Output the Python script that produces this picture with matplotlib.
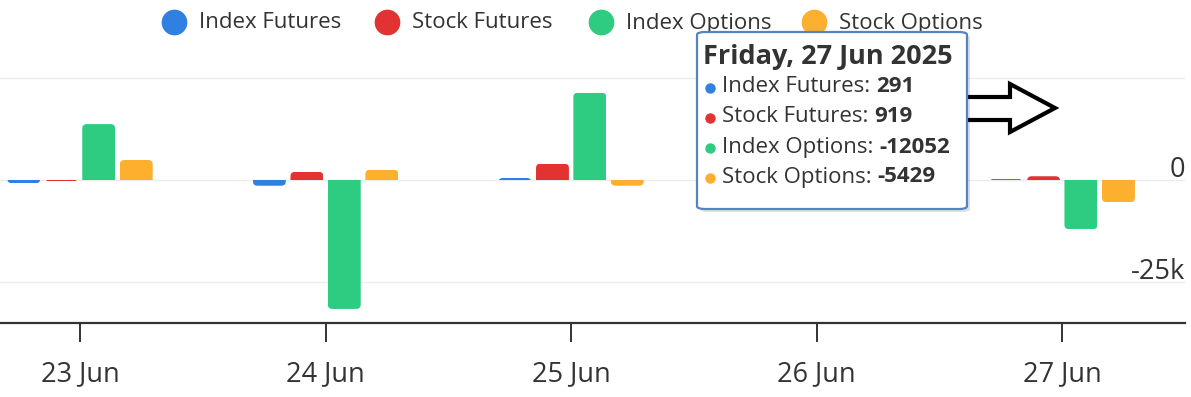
import matplotlib
matplotlib.use("Agg")
import matplotlib.pyplot as plt
from matplotlib.lines import Line2D
from matplotlib.patches import FancyBboxPatch, Polygon
import numpy as np

plt.rcParams['font.family'] = ['Open Sans', 'DejaVu Sans']

# ---- data ----
dates = ["23 Jun", "24 Jun", "25 Jun", "26 Jun", "27 Jun"]
series_names = ["Index Futures", "Stock Futures", "Index Options", "Stock Options"]
index_futures = [-800, -1400, 500, -400, 291]
stock_futures = [-350, 2000, 4000, 1500, 919]
index_options = [13700, -31600, 21400, 9000, -12052]
stock_options = [4900, 2500, -1400, 2000, -5429]
colors = ["#2f80e0", "#e23232", "#2ecc80", "#fdb02e"]
y_label_values = [0, -25000]
y_label_texts = ["0", "-25k"]
tooltip_title = "Friday, 27 Jun 2025"
tooltip_values = ["291", "919", "-12052", "-5429"]

W, H = 1191, 397
fig = plt.figure(figsize=(W / 100, H / 100), dpi=100)

def fx(px):
    return px / W

def fy(py):
    return 1 - py / H

# axes placement: bottom axis line at y=323 px, 0 at 180 px, 102 px per 25k
ymin, ymax = -35000, 30000
ppk = 102 / 25000           # px per data unit (y)
xmin, xmax = -0.326, 4.5
ax_w_px = 1185
ppx = ax_w_px / (xmax - xmin)  # px per data unit (x)
top_px = 180 - ymax * ppk
bot_px = 180 - ymin * ppk
ax = fig.add_axes([0, fy(bot_px), fx(ax_w_px), (bot_px - top_px) / H])
ax.set_ylim(ymin, ymax)
ax.set_xlim(xmin, xmax)

all_series = [index_futures, stock_futures, index_options, stock_options]
x = np.arange(len(dates))
offsets = [-0.229, -0.076, 0.076, 0.229]
bw = 0.134
r_px = 4.5
rx = r_px / ppx
ry = r_px / ppk
for vals, off, c, name in zip(all_series, offsets, colors, series_names):
    bars = ax.bar(x + off, vals, width=bw, color=c, label=name, zorder=3)
    for b, v in zip(bars, vals):
        # rounded clip at the far end of each bar
        if v >= 0:
            y0, h = -ry, v + ry
        else:
            y0, h = v, -v + ry
        clip = FancyBboxPatch((b.get_x(), y0), b.get_width(), h,
                              boxstyle=f"round,pad=0,rounding_size={rx}",
                              mutation_aspect=ry / rx,
                              transform=ax.transData, facecolor="none",
                              edgecolor="none")
        b.set_clip_path(clip)

# gridlines
for v in [25000, 0, -25000]:
    ax.axhline(v, color="#ececec", lw=1.0, zorder=1)

for s in ["top", "left", "right"]:
    ax.spines[s].set_visible(False)
ax.spines["bottom"].set_color("#333333")
ax.spines["bottom"].set_linewidth(1.6)
ax.set_yticks([])
ax.set_xticks(x)
ax.set_xticklabels(dates, fontsize=19.5, color="#333333")
ax.tick_params(axis="x", length=14, width=1.4, color="#333333", pad=13)

for v, t in zip(y_label_values, y_label_texts):
    ax.text(1.0, v - 1000, t, transform=ax.get_yaxis_transform(), ha="right",
            va="bottom", fontsize=19.5, color="#333333")

# legend (circle markers + labels)
for i, (name, c) in enumerate(zip(series_names, colors)):
    cx = 174 + 213.3 * i
    fig.add_artist(Line2D([fx(cx)], [fy(22)], marker="o", markersize=17.5,
                          markerfacecolor=c, markeredgecolor=c,
                          linestyle="none", transform=fig.transFigure))
    fig.text(fx(cx + 25), fy(23), name, fontsize=16, color="#333333",
             ha="left", va="center")

# arrow annotation (outline)
arrow_pts = [(962, 97), (1010, 97), (1010, 84), (1055, 108), (1010, 132),
             (1010, 120), (962, 120)]
fig.add_artist(Polygon([(fx(a), fy(b)) for a, b in arrow_pts], closed=True,
                       transform=fig.transFigure, facecolor="white",
                       edgecolor="black", lw=3.0, joinstyle="miter", zorder=5))

# tooltip
bx0, by0, bx1, by1 = 697, 32, 967, 209
shadow = FancyBboxPatch((fx(bx0 + 3), fy(by1 + 3)), fx(bx1 - bx0), (by1 - by0) / H,
                        boxstyle="round,pad=0,rounding_size=0.007",
                        transform=fig.transFigure, facecolor="#000000",
                        alpha=0.12, edgecolor="none", zorder=9)
fig.add_artist(shadow)
box = FancyBboxPatch((fx(bx0), fy(by1)), fx(bx1 - bx0), (by1 - by0) / H,
                     boxstyle="round,pad=0,rounding_size=0.007",
                     transform=fig.transFigure, facecolor="white",
                     edgecolor="#5584c4", lw=1.6, zorder=10)
fig.add_artist(box)
fig.text(fx(703), fy(57), tooltip_title, fontsize=19.5, fontweight="bold",
         color="#333333", va="center", ha="left", zorder=11)
fig.canvas.draw()
renderer = fig.canvas.get_renderer()
for i, (name, val, c) in enumerate(zip(series_names, tooltip_values, colors)):
    yy = 87 + 30 * i
    fig.add_artist(Line2D([fx(710)], [fy(yy + 1)], marker="o", markersize=6.5,
                          markerfacecolor=c, markeredgecolor=c, linestyle="none",
                          transform=fig.transFigure, zorder=11))
    t = fig.text(fx(722), fy(yy), name + ": ", fontsize=16, color="#333333",
                 va="center", ha="left", zorder=11)
    bb = t.get_window_extent(renderer)
    fig.text(bb.x1 / W, fy(yy), val, fontsize=16, fontweight="bold",
             color="#333333", va="center", ha="left", zorder=11)

fig.savefig("out.png", dpi=100)
